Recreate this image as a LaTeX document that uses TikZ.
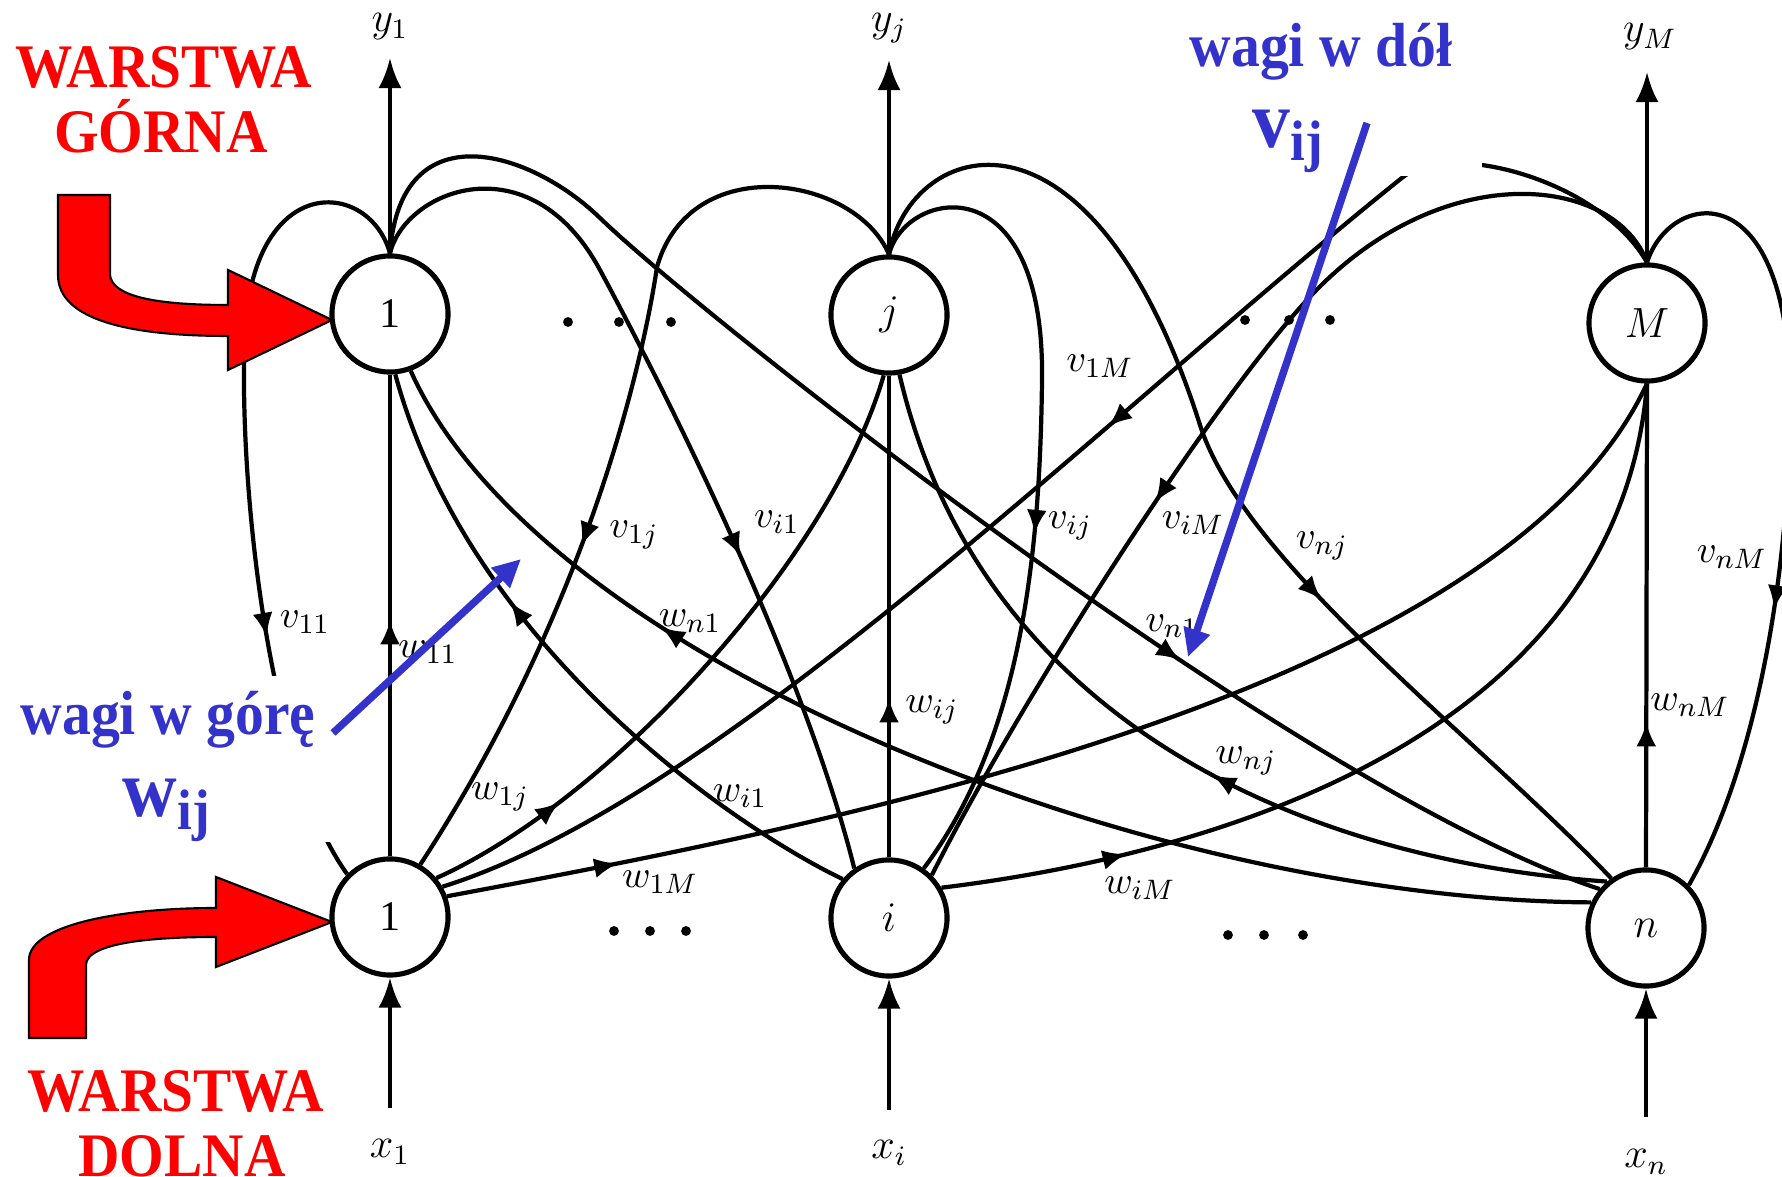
\documentclass[tikz,border=0pt]{standalone}
\usepackage{fontspec}
\setmainfont{Liberation Serif}
\usepackage{tikz}
\usetikzlibrary{arrows.meta, positioning, decorations.markings}
\definecolor{warstwa}{RGB}{255,0,0}
\definecolor{wagi}{RGB}{51,51,204}
\newcommand{\tall}[1]{\scalebox{1}[1.08]{#1}}

\begin{document}
\begin{tikzpicture}[
  x=0.01cm, y=-0.01cm,
  neuron/.style={draw, circle, line width=1.45pt, minimum size=1.16cm, inner sep=0pt, font=\fontsize{12}{14}\selectfont},
  link/.style={line width=1.2pt},
  io/.style={line width=1.2pt, -{Latex[length=3mm, width=2.3mm]}},
  midarrow/.style={postaction={decorate}, decoration={markings, mark=at position #1 with {\arrow{Latex[length=2.4mm, width=2mm]}}}},
  wlabel/.style={font=\fontsize{11}{13}\selectfont, inner sep=1pt},
  iolabel/.style={font=\fontsize{12}{14}\selectfont, inner sep=1pt},
  layertext/.style={text=warstwa, font=\bfseries\fontsize{16.3}{18}\selectfont, inner sep=0pt, anchor=base},
  note/.style={text=wagi, font=\bfseries\fontsize{16.4}{19}\selectfont, inner sep=0pt, anchor=base},
  bigw/.style={text=wagi, font=\bfseries\fontsize{21.5}{24}\selectfont, inner sep=0pt, anchor=base west},
  pointer/.style={draw=wagi, line width=2.1pt, -{Triangle[length=2.8mm, width=2.6mm]}},
  bent/.style={fill=warstwa, draw=black, line width=0.6pt}
]
\clip (0,0) rectangle (1782,1177);
\fill[white] (0,0) rectangle (1782,1177);

\node[neuron] (t1) at (390,314) {1};
\node[neuron] (tj) at (889,315) {$j$};
\node[neuron] (tm) at (1647,323) {$M$};
\node[neuron] (b1) at (390,917) {1};
\node[neuron] (bi) at (889,918) {$i$};
\node[neuron] (bn) at (1646,928) {$n$};

\coordinate (o1) at (390,58);
\coordinate (oj) at (889,60);
\coordinate (om) at (1647,72);
\node[iolabel] (y1) at (390,27) {$y_1$};
\node[iolabel] (yj) at (889,28) {$y_j$};
\node[iolabel] (ym) at (1650,37) {$y_M$};
\draw[io] (t1.north) -- (o1);
\draw[io] (tj.north) -- (oj);
\draw[io] (tm.north) -- (om);

\coordinate (i1) at (390,1108);
\coordinate (ii) at (889,1110);
\coordinate (in) at (1646,1117);
\node[iolabel] (x1) at (390,1152) {$x_1$};
\node[iolabel] (xi) at (889,1153) {$x_i$};
\node[iolabel] (xn) at (1646,1162) {$x_n$};
\draw[io] (i1) -- (b1.south);
\draw[io] (ii) -- (bi.south);
\draw[io] (in) -- (bn.south);

\foreach \x in {568,619,671} \fill (\x,322) circle (1.4pt);
\foreach \x in {1245,1289,1330} \fill (\x,320) circle (1.4pt);
\foreach \x in {614,650,686} \fill (\x,931) circle (1.4pt);
\foreach \x in {1228,1264,1303} \fill (\x,935) circle (1.4pt);

\draw[link, midarrow=0.49] (b1.north) -- (t1.south);
\draw[link, midarrow=0.33] (bi.north) -- (tj.south);
\draw[link, midarrow=0.30] (bn.north) -- (tm.south);

\draw[link, midarrow=0.69] (t1.north) .. controls (370,180) and (255,170) .. (245,330) .. controls (238,470) and (265,760) .. (b1.135);
\draw[link, midarrow=0.21] (b1.40) .. controls (610,800) and (830,560) .. (tj.265);
\draw[link, midarrow=0.62] (tj.north) .. controls (855,175) and (690,150) .. (657,267) .. controls (640,380) and (580,620) .. (b1.60);
\draw[link, midarrow=0.13] (b1.20) .. controls (800,830) and (1500,700) .. (tm.south);
\draw[link, midarrow=0.45] (tm.north) .. controls (1600,180) and (1450,140) .. (1403,177) .. controls (1100,420) and (720,800) .. (b1.30);
\draw[link, midarrow=0.64] (t1.north) .. controls (405,190) and (530,140) .. (600,270) .. controls (691,439) and (810,690) .. (bi.125);
\draw[link, midarrow=0.63] (bi.140) .. controls (740,830) and (470,650) .. (t1.275);
\draw[link, midarrow=0.56] (tj.north) .. controls (905,190) and (1045,160) .. (1042,380) .. controls (1040,560) and (1020,740) .. (bi.55);
\draw[link, midarrow=0.20] (bi.30) .. controls (1250,850) and (1620,720) .. (tm.south);
\draw[link, midarrow=0.60] (tm.north) .. controls (1615,175) and (1440,155) .. (1307,300) .. controls (1210,405) and (1020,700) .. (bi.45);
\draw[link, midarrow=0.68] (t1.north) .. controls (400,110) and (530,150) .. (600,218) .. controls (700,315) and (1300,790) .. (bn.140);
\draw[link, midarrow=0.73] (bn.155) .. controls (1150,900) and (540,660) .. (t1.290);
\draw[link, midarrow=0.64] (tj.north) .. controls (910,140) and (1090,80) .. (1200,425) .. controls (1244,563) and (1480,740) .. (bn.125);
\draw[link, midarrow=0.44] (bn.130) .. controls (1300,860) and (980,720) .. (tj.280);
\draw[link, midarrow=0.64] (tm.north) .. controls (1670,190) and (1790,170) .. (1790,400) .. controls (1790,560) and (1760,760) .. (bn.45);

\node[wlabel] (lv11) at (305,622) {$v_{11}$};
\node[wlabel] (lw11) at (428,652) {$w_{11}$};
\node[wlabel] (lv1j) at (634,535) {$v_{1j}$};
\node[wlabel] (lw1j) at (500,797) {$w_{1j}$};
\node[wlabel] (lvi1) at (777,522) {$v_{i1}$};
\node[wlabel] (lwi1) at (740,796) {$w_{i1}$};
\node[wlabel] (lvij) at (1070,526) {$v_{ij}$};
\node[wlabel] (lwij) at (932,710) {$w_{ij}$};
\node[wlabel] (lv1m) at (1100,366) {$v_{1M}$};
\node[wlabel] (lw1m) at (660,882) {$w_{1M}$};
\node[wlabel] (lvim) at (1193,523) {$v_{iM}$};
\node[wlabel] (lwim) at (1140,888) {$w_{iM}$};
\node[wlabel] (lvn1) at (1172,626) {$v_{n1}$};
\node[wlabel] (lwn1) at (690,621) {$w_{n1}$};
\node[wlabel] (lvnj) at (1322,546) {$v_{nj}$};
\node[wlabel] (lwnj) at (1246,761) {$w_{nj}$};
\node[wlabel] (lvnm) at (1732,557) {$v_{nM}$};
\node[wlabel] (lwnm) at (1690,705) {$w_{nM}$};

\fill[white] (0,676) rectangle (336,842);
\fill[white] (1182,0) rectangle (1482,176);

\node[note] (gora) at (168,735) {\tall{wagi w górę}};
\node[bigw] (wij) at (122,817) {\tall{w\textsubscript{ij}}};
\node[note] (dol) at (1321,67) {\tall{wagi w dół}};
\node[bigw] (vij) at (1252,148) {\tall{v\textsubscript{ij}}};
\coordinate (dtail) at (1367,123);
\coordinate (dtip) at (1188,657);
\coordinate (gtail) at (333,733);
\coordinate (gtip) at (521,559);
\draw[pointer] (dtail) -- (dtip);
\draw[pointer] (gtail) -- (gtip);

\node[layertext] (wg1) at (164,88) {\tall{WARSTWA}};
\node[layertext] (wg2) at (161,153) {\tall{GÓRNA}};
\node[layertext] (wd1) at (176,1112) {\tall{WARSTWA}};
\node[layertext] (wd2) at (182,1176) {\tall{DOLNA}};

\filldraw[bent] (58,195) -- (110,195) -- (110,275) .. controls (112,295) and (150,305) .. (228,305) -- (228,270) -- (332,320) -- (228,370) -- (228,336) .. controls (130,336) and (58,320) .. (58,275) -- cycle;
\filldraw[bent] (29,1038) -- (29,960) .. controls (29,925) and (120,908) .. (216,908) -- (216,877) -- (332,922) -- (216,967) -- (216,937) .. controls (140,937) and (86,945) .. (86,965) -- (86,1038) -- cycle;
\end{tikzpicture}
\end{document}
